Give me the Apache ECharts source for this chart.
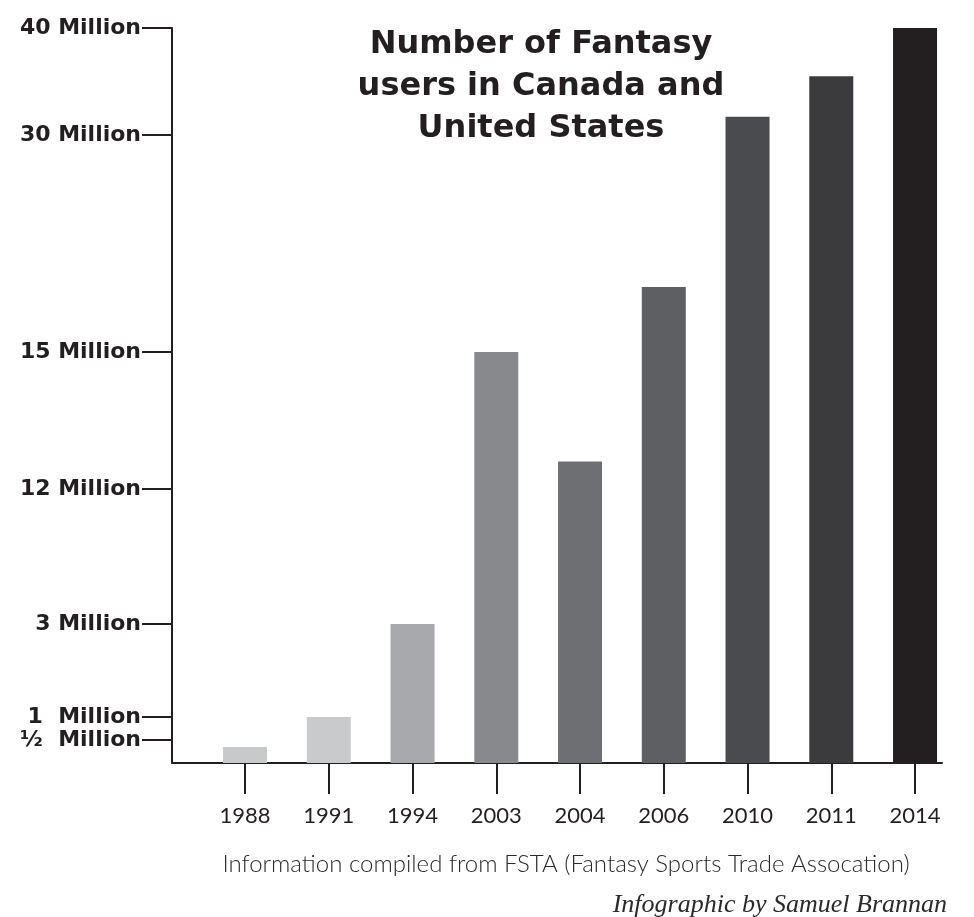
<!DOCTYPE html>
<html>
<head>
<meta charset="utf-8">
<script src="https://cdn.jsdelivr.net/npm/echarts@6/dist/echarts.min.js"></script>
<style>html,body{margin:0;padding:0;background:#fff}#c{width:974px;height:917px}</style>
</head>
<body>
<div id="c"></div>
<script>
// ---- data ----
const years = ['1988', '1991', '1994', '2003', '2004', '2006', '2010', '2011', '2014'];
const usersMillions = [0.35, 1, 3, 15, 12.6, 19.5, 31.7, 35.5, 40];
const barColors = ['#c8c9cb', '#c9cacc', '#a8a9ac', '#88898c', '#6e6f72', '#5e5f62', '#4a4b4e', '#3b3b3d', '#231f20'];
const tickValues = [0.5, 1, 3, 12, 15, 30, 40];
const tickLabels = ['½  Million', '1  Million', '3 Million', '12 Million', '15 Million', '30 Million', '40 Million'];
// the original's y scale is non-linear: value stops and their relative spacing on the axis
const scaleStops = [0, 0.5, 1, 3, 12, 15, 30, 40];
const scaleSpacing = [0, 23, 46, 139, 274, 411, 628, 735];
const titleText = 'Number of Fantasy\nusers in Canada and\nUnited States';
const sourceText = 'Information compiled from FSTA (Fantasy Sports Trade Assocation)';
const creditText = 'Infographic by Samuel Brannan';

function toAxis(v) {
  for (let i = 1; i < scaleStops.length; i++) {
    if (v <= scaleStops[i]) {
      const t = (v - scaleStops[i - 1]) / (scaleStops[i] - scaleStops[i - 1]);
      return scaleSpacing[i - 1] + t * (scaleSpacing[i] - scaleSpacing[i - 1]);
    }
  }
  return scaleSpacing[scaleSpacing.length - 1];
}
const tickAxisValues = tickValues.map(toAxis);
const labelFor = {};
tickAxisValues.forEach((a, i) => { labelFor[a.toFixed(3)] = tickLabels[i]; });

const ink = '#231f20';
const chart = echarts.init(document.getElementById('c'), null, { renderer: 'canvas' });
chart.setOption({
  animation: false,
  backgroundColor: '#fff',
  title: [{
    text: titleText,
    left: 536, top: 19, textAlign: 'center',
    textStyle: { fontFamily: 'DejaVu Sans', fontWeight: 'bold', fontSize: 32, lineHeight: 42, color: ink }
  }, {
    text: sourceText,
    left: 561, top: 847, textAlign: 'center',
    textStyle: { fontFamily: 'Lato', fontWeight: 300, fontSize: 24, color: '#2a2a2a' }
  }, {
    text: creditText,
    right: 22, top: 887,
    textStyle: { fontFamily: 'Liberation Serif', fontStyle: 'italic', fontWeight: 'normal', fontSize: 26, color: '#2a2a2a' }
  }],
  grid: { left: 172, right: 32, top: 28, bottom: 154, containLabel: false },
  xAxis: {
    type: 'value',
    min: -0.872, max: 8.322,
    splitLine: { show: false },
    axisLine: { show: true, onZero: false, lineStyle: { color: ink, width: 2 } },
    axisTick: { show: true, customValues: years.map((y, i) => i), length: 31, lineStyle: { color: ink, width: 2 } },
    axisLabel: {
      customValues: years.map((y, i) => i),
      formatter: v => years[Math.round(v)] || '',
      margin: 42,
      fontFamily: 'Lato', fontSize: 22, color: ink
    }
  },
  yAxis: {
    type: 'value',
    min: 0, max: scaleSpacing[scaleSpacing.length - 1],
    splitLine: { show: false },
    axisLine: { show: true, onZero: false, lineStyle: { color: ink, width: 2 } },
    axisTick: { show: true, customValues: tickAxisValues, length: 30, lineStyle: { color: ink, width: 2 } },
    axisLabel: {
      customValues: tickAxisValues,
      formatter: v => labelFor[Number(v).toFixed(3)] || '',
      margin: 31,
      fontFamily: 'DejaVu Sans', fontWeight: 'bold', fontSize: 22, color: ink
    }
  },
  series: [{
    type: 'bar',
    barWidth: 44,
    data: usersMillions.map((v, i) => ({ value: [i, toAxis(v)], itemStyle: { color: barColors[i] } }))
  }]
});
</script>
</body>
</html>
